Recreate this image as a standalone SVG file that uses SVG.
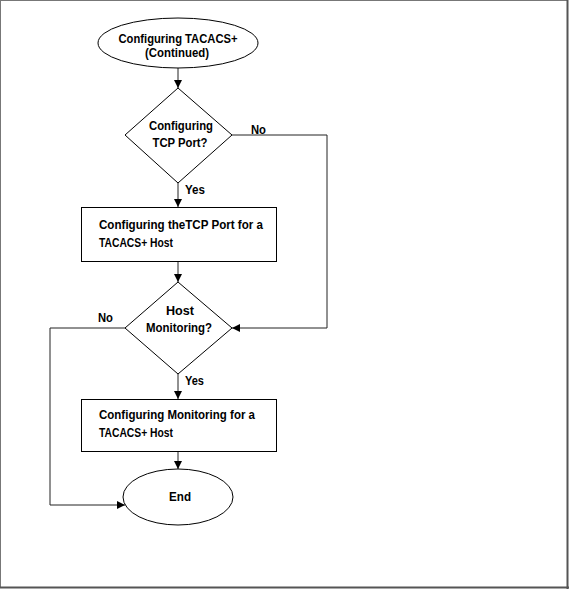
<svg xmlns="http://www.w3.org/2000/svg" width="569" height="589" viewBox="0 0 569 589">
<style>
.s{fill:#fff;stroke:#000;stroke-width:1}
.c{fill:none;stroke:#222;stroke-width:1}
text{font-family:"Liberation Sans Narrow","Arial Narrow","Liberation Sans",Arial,sans-serif;font-weight:bold;font-size:13.5px;fill:#000}
.m{text-anchor:middle}
</style>
<defs>
<marker id="a" markerWidth="8" markerHeight="8" refX="8" refY="4" orient="auto" markerUnits="userSpaceOnUse">
<path d="M0,0 L8,4 L0,8 Z" fill="#000"/>
</marker>
</defs>
<rect x="0.5" y="0.5" width="567" height="587" fill="#fff" stroke="#777" stroke-width="1"/>
<line x1="567.5" y1="0" x2="567.5" y2="589" stroke="#555" stroke-width="2"/>
<line x1="0" y1="587.5" x2="569" y2="587.5" stroke="#555" stroke-width="2"/>
<g id="connectors">
<line class="c" x1="178" y1="68" x2="178" y2="88" marker-end="url(#a)"/>
<line class="c" x1="178" y1="183" x2="178" y2="207" marker-end="url(#a)"/>
<line class="c" x1="178" y1="262" x2="178" y2="282" marker-end="url(#a)"/>
<line class="c" x1="178" y1="374" x2="178" y2="399" marker-end="url(#a)"/>
<line class="c" x1="178" y1="452" x2="178" y2="469" marker-end="url(#a)"/>
<polyline class="c" points="232,135 327,135 327,328 232,328" marker-end="url(#a)"/>
<polyline class="c" points="125,328 50,328 50,505 125,505" marker-end="url(#a)"/>
<text x="251" y="134" textLength="15" lengthAdjust="spacingAndGlyphs">No</text>
<text x="185" y="194" textLength="20" lengthAdjust="spacingAndGlyphs">Yes</text>
<text x="98" y="322" textLength="15" lengthAdjust="spacingAndGlyphs">No</text>
<text x="185" y="385" textLength="19" lengthAdjust="spacingAndGlyphs">Yes</text>
</g>
<g id="start">
<ellipse class="s" cx="178" cy="43" rx="80" ry="25"/>
<text class="m" x="178" y="43" textLength="119" lengthAdjust="spacingAndGlyphs">Configuring TACACS+</text>
<text class="m" x="177" y="57" textLength="64" lengthAdjust="spacingAndGlyphs">(Continued)</text>
</g>
<g id="tcp-decision">
<polygon class="s" points="178,88 232,135 178,183 125,135"/>
<text class="m" x="181" y="130" textLength="64" lengthAdjust="spacingAndGlyphs">Configuring</text>
<text class="m" x="180" y="147" textLength="55" lengthAdjust="spacingAndGlyphs">TCP Port?</text>
</g>
<g id="tcp-config">
<rect class="s" x="81.5" y="207.5" width="195" height="54"/>
<text x="99" y="229" textLength="164" lengthAdjust="spacingAndGlyphs">Configuring theTCP Port for a</text>
<text x="99" y="247" textLength="74" lengthAdjust="spacingAndGlyphs">TACACS+ Host</text>
</g>
<g id="monitor-decision">
<polygon class="s" points="178,282 232,328 178,374 125,328"/>
<text class="m" x="180" y="315" textLength="28" lengthAdjust="spacingAndGlyphs">Host</text>
<text class="m" x="179" y="332" textLength="66" lengthAdjust="spacingAndGlyphs">Monitoring?</text>
</g>
<g id="monitor-config">
<rect class="s" x="81.5" y="399.5" width="195" height="52"/>
<text x="99" y="419" textLength="156" lengthAdjust="spacingAndGlyphs">Configuring Monitoring for a</text>
<text x="99" y="437" textLength="74" lengthAdjust="spacingAndGlyphs">TACACS+ Host</text>
</g>
<g id="end">
<ellipse class="s" cx="178" cy="497" rx="55" ry="28"/>
<text class="m" x="180" y="501" textLength="22" lengthAdjust="spacingAndGlyphs">End</text>
</g>
</svg>
